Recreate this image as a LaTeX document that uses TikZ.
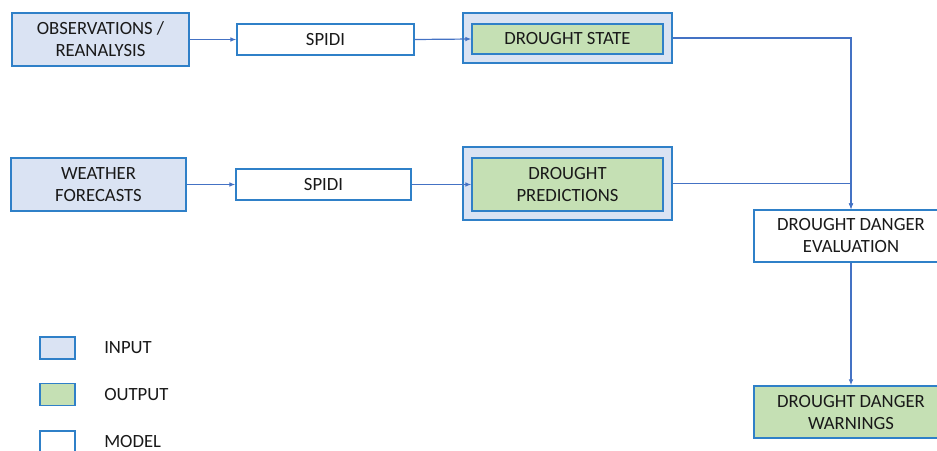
\documentclass[tikz,border=0pt]{standalone}
\usepackage{fontspec}
\setmainfont{Carlito}
\usetikzlibrary{arrows.meta,positioning}
\definecolor{boxline}{HTML}{2F80C8}
\definecolor{inputfill}{HTML}{DAE3F3}
\definecolor{outputfill}{HTML}{C5E0B4}
\definecolor{flow}{HTML}{4472C4}
\tikzset{font=\fontsize{14}{16.5}\selectfont}
\tikzset{box/.style={draw=boxline,line width=1pt,align=center,inner sep=0pt,text=black!90}}
\tikzset{inbox/.style={box,fill=inputfill},
         outbox/.style={box,fill=outputfill},
         modelbox/.style={box,fill=white}}
\tikzset{flowline/.style={draw=flow,line width=0.9pt,-{Latex[length=4.5pt,width=3.5pt]}}}

\begin{document}
\begin{tikzpicture}[x=0.75pt,y=-0.75pt]
\useasboundingbox (0,0) rectangle (937,450);
% top row: observations
\node[inbox,minimum width=132.75pt,minimum height=39.75pt] (obs) at (100.5,39.5) {OBSERVATIONS /\\REANALYSIS};
\node[modelbox,minimum width=132.75pt,minimum height=23.25pt] (spidia) at (325.5,39.5) {SPIDI};
\node[inbox,minimum width=156.75pt,minimum height=37.5pt] (stateframe) at (567.5,38) {};
\node[outbox,minimum width=143.25pt,minimum height=22.5pt] (state) at (567.5,39) {DROUGHT STATE};
% middle row: forecasts
\node[inbox,minimum width=131.25pt,minimum height=39.75pt] (weather) at (98.5,184.5) {WEATHER\\FORECASTS};
\node[modelbox,minimum width=131.25pt,minimum height=23.25pt] (spidib) at (323.5,184.5) {SPIDI};
\node[inbox,minimum width=156.75pt,minimum height=54.75pt] (predframe) at (567.5,183.5) {};
\node[outbox,minimum width=143.25pt,minimum height=39.75pt] (pred) at (567.5,184.5) {DROUGHT\\PREDICTIONS};
% right column
\node[modelbox,minimum width=145.5pt,minimum height=39pt] (evaluation) at (851,236) {DROUGHT DANGER\\EVALUATION};
\node[outbox,minimum width=145.5pt,minimum height=39pt] (warnings) at (851,412) {DROUGHT DANGER\\WARNINGS};
% flows
\draw[flowline] (obs.east) -- (spidia.west);
\draw[flowline] (spidia.east) -- (state.west);
\draw[flowline] (weather.east) -- (spidib.west);
\draw[flowline] (spidib.east) -- (pred.west);
\draw[flowline] (stateframe.east) -| (evaluation.north);
\draw[flowline] (predframe.east) -| (evaluation.north);
\draw[flowline] (evaluation.south) -- (warnings.north);
% legend
\node[inbox,minimum width=26.25pt,minimum height=16.5pt] (keyin) at (57.5,348) {};
\node[outbox,minimum width=26.25pt,minimum height=16.5pt] (keyout) at (57.5,394.5) {};
\node[modelbox,minimum width=26.25pt,minimum height=16.5pt] (keymodel) at (57.5,442) {};
\node[anchor=west,inner sep=0pt,text=black!90] (keyinlabel) at (104,348) {INPUT};
\node[anchor=west,inner sep=0pt,text=black!90] (keyoutlabel) at (104,394.5) {OUTPUT};
\node[anchor=west,inner sep=0pt,text=black!90] (keymodellabel) at (104,441) {MODEL};
\end{tikzpicture}
\end{document}
